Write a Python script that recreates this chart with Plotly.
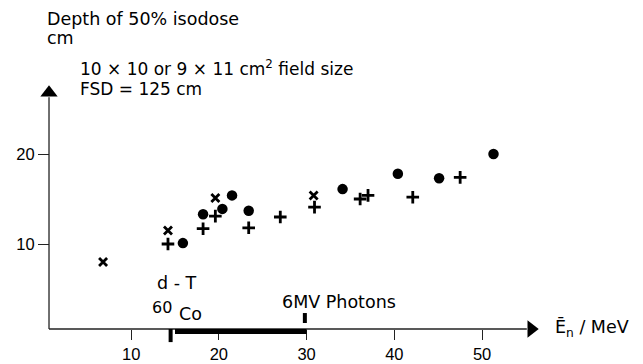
import plotly.graph_objects as go

# ---- data ----
cross_x = [6.8, 14.2, 19.6, 30.8]
cross_y = [8.0, 11.5, 15.1, 15.4]

plus_x = [14.2, 18.2, 19.6, 23.4, 27.0, 30.9, 36.1, 37.0, 42.1, 47.5]
plus_y = [10.0, 11.7, 13.1, 11.8, 13.0, 14.1, 15.0, 15.4, 15.2, 17.4]

dot_x = [15.9, 18.2, 20.4, 21.5, 23.4, 34.1, 40.4, 45.1, 51.3]
dot_y = [10.1, 13.3, 13.9, 15.4, 13.7, 16.1, 17.8, 17.3, 20.0]

x_tickvals = [10, 20, 30, 40, 50]
y_tickvals = [10, 20]

dt_co_energy = 14.5
photon_band = [15.0, 30.0]
photon_6mv = 29.8

# ---- geometry (pixel-based layout of a 643x364 figure) ----
W, H = 643, 364
XR = [-4.946, 68.34]
YR = [-3.333, 37.111]
x_org, y_org = 0.64, 0.556      # where the two axis lines meet
x_end, y_end = 55.1, 26.3       # ends of axis lines (arrow bases)

def px(xp):
    return xp / W

def py(yp):
    return 1 - yp / H

TICKFONT = "Liberation Sans, Arial, sans-serif"
FONT = "DejaVu Sans, sans-serif"

fig = go.Figure()
fig.add_trace(go.Scatter(x=cross_x, y=cross_y, mode="markers",
                         marker=dict(symbol="x-thin", size=8, color="black",
                                     line=dict(width=2.8, color="black")),
                         showlegend=False))
fig.add_trace(go.Scatter(x=plus_x, y=plus_y, mode="markers",
                         marker=dict(symbol="cross-thin", size=9, color="black",
                                     line=dict(width=2.8, color="black")),
                         showlegend=False))
fig.add_trace(go.Scatter(x=dot_x, y=dot_y, mode="markers",
                         marker=dict(symbol="circle", size=10.5, color="black"),
                         showlegend=False))
# arrow heads at axis ends
fig.add_trace(go.Scatter(x=[x_end + 0.5, x_org], y=[y_org, y_end + 0.5], mode="markers",
                         marker=dict(symbol=["triangle-right", "triangle-up"], size=15,
                                     color="black"),
                         cliponaxis=False, showlegend=False, hoverinfo="skip"))

shapes = [
    dict(type="line", xref="x", yref="y", x0=x_org, y0=y_org, x1=x_end, y1=y_org,
         line=dict(color="#222", width=1.3)),
    dict(type="line", xref="x", yref="y", x0=x_org, y0=y_org, x1=x_org, y1=y_end,
         line=dict(color="#222", width=1.3)),
    # d-T / 60Co mark below the axis
    dict(type="line", xref="x", yref="y", x0=dt_co_energy, y0=y_org, x1=dt_co_energy, y1=-0.9,
         line=dict(color="black", width=4)),
    # thick band
    dict(type="line", xref="x", yref="y", x0=photon_band[0], y0=0.28, x1=photon_band[1], y1=0.28,
         line=dict(color="black", width=5)),
    # 6MV mark above the axis
    dict(type="line", xref="x", yref="y", x0=photon_6mv, y0=2.33, x1=photon_6mv, y1=1.22,
         line=dict(color="black", width=4)),
]

ann = []
def text(t, x, y, xa="left", size=17.5, family=FONT):
    ann.append(dict(text=t, x=px(x), y=py(y), xref="paper", yref="paper",
                    xanchor=xa, yanchor="middle", showarrow=False,
                    font=dict(family=family, size=size, color="black")))

text("Depth of 50% isodose", 45, 19)
text("cm", 45, 38)
text("10 × 10 or 9 × 11 cm<sup>2</sup> field size", 78, 68, size=17)
text("FSD = 125 cm", 78, 89, size=17)
text("d - T", 177, 283, xa="center")
text("60", 162, 307, xa="center", size=16)
text("Co", 190, 314, xa="center")
text("6MV Photons", 280, 302)
text("E\u0304<sub>n</sub> / MeV", 553, 328)

fig.update_layout(
    width=W, height=H,
    margin=dict(l=0, r=0, t=0, b=0),
    paper_bgcolor="white", plot_bgcolor="white",
    shapes=shapes, annotations=ann,
    xaxis=dict(range=XR, domain=[0, 1], anchor="free", position=py(329),
               showgrid=False, zeroline=False, showline=False,
               tickmode="array", tickvals=x_tickvals,
               ticks="outside", ticklen=10, tickwidth=1.2, tickcolor="#222",
               tickfont=dict(family=TICKFONT, size=16.5, color="black"),
               automargin=False),
    yaxis=dict(range=YR, domain=[0, 1], anchor="free", position=px(49),
               showgrid=False, zeroline=False, showline=False,
               tickmode="array", tickvals=y_tickvals,
               ticks="outside", ticklen=11, tickwidth=1.2, tickcolor="#222",
               tickfont=dict(family=TICKFONT, size=16.5, color="black"),
               automargin=False),
)

fig.write_html("out.html")
